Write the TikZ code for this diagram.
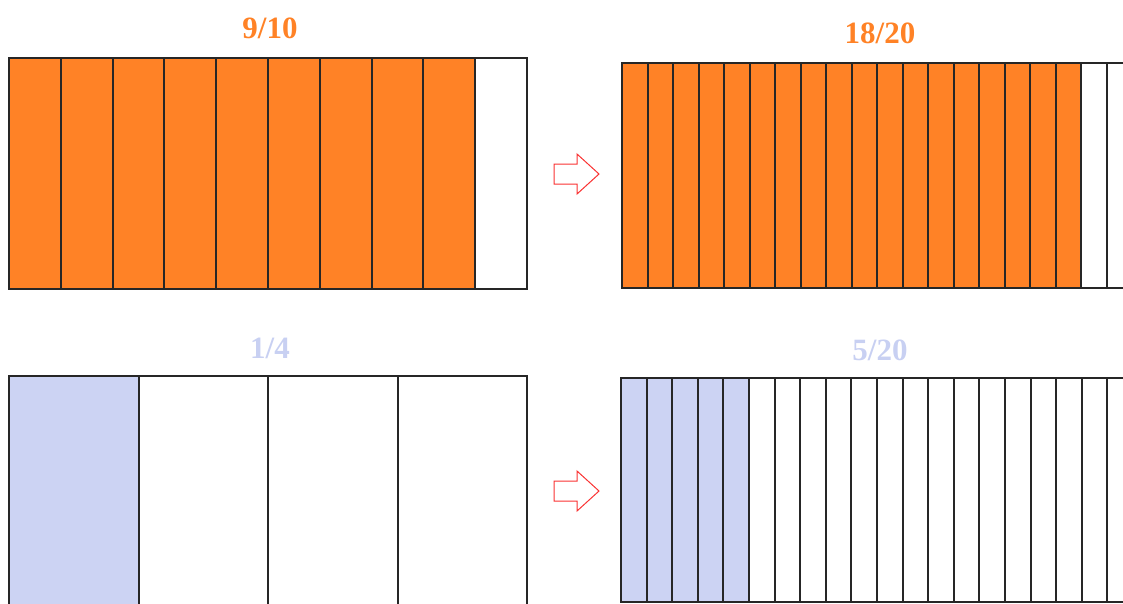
\documentclass[tikz,border=0pt]{standalone}
\usepackage{fontspec}
\setmainfont{Liberation Serif}
\usepackage{xcolor}
\definecolor{fracorange}{RGB}{255,130,38}
\definecolor{fracblue}{RGB}{204,211,243}
\definecolor{labelblue}{RGB}{200,208,242}
\definecolor{arrowred}{RGB}{250,50,50}
\tikzset{
  edge/.style={line width=1.5pt,draw=black!85},
  frac/.style={font=\bfseries\fontsize{31}{36}\selectfont},
  hollowarrow/.style={draw=arrowred,line width=1pt,fill=white}
}
\begin{document}
\begin{tikzpicture}[x=1pt,y=-1pt]
  \useasboundingbox (0,0) rectangle (1123,603);
  \clip (0,0) rectangle (1123,603);
  % 9/10
  \fill[fracorange] (9,58) rectangle (475,289);
  \draw[edge] (9,58) rectangle (527,289);
  \foreach \i in {1,...,9} \draw[edge] ({round(9+51.8*\i)},58)--({round(9+51.8*\i)},289);
  \node[frac,text=fracorange] (ninetenths) at (270,28) {9/10};
  % 18/20
  \fill[fracorange] (622,63) rectangle (1081,288);
  \draw[edge] (622,63) rectangle (1135,288);
  \foreach \i in {1,...,19} \draw[edge] ({round(622+25.5*\i)},63)--({round(622+25.5*\i)},288);
  \node[frac,text=fracorange] (eighteentw) at (880,33) {18/20};
  % 1/4
  \fill[fracblue] (9,376) rectangle (138,610);
  \draw[edge] (9,376) rectangle (527,610);
  \foreach \i in {1,2,3} \draw[edge] ({round(9+129.5*\i)},376)--({round(9+129.5*\i)},610);
  \node[frac,text=labelblue] (onequarter) at (270,348) {1/4};
  % 5/20
  \fill[fracblue] (621,378) rectangle (749,602);
  \draw[edge] (621,378) rectangle (1135,602);
  \foreach \i in {1,...,19} \draw[edge] ({round(621+25.6*\i)},378)--({round(621+25.6*\i)},602);
  \node[frac,text=labelblue] (fivetw) at (880,350) {5/20};
  % arrows
  \foreach \y in {174,491}
    \draw[hollowarrow] (554,\y-10)--(577,\y-10)--(577,\y-20)--(599,\y)
      --(577,\y+20)--(577,\y+10)--(554,\y+10)--cycle;
\end{tikzpicture}
\end{document}
